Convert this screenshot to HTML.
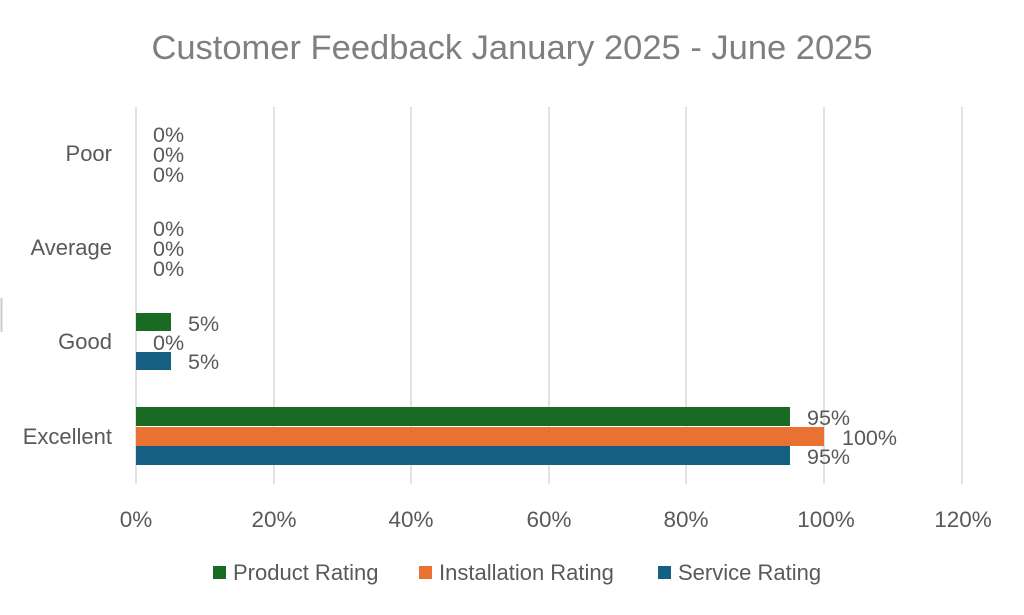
<!DOCTYPE html>
<html><head><meta charset="utf-8"><style>
html,body{margin:0;padding:0;background:#fff;}
svg{display:block;font-family:"Liberation Sans",sans-serif;}
</style></head><body>
<svg width="1024" height="615" viewBox="0 0 1024 615">
<rect width="1024" height="615" fill="#fff"/>
<line x1="1.5" y1="298" x2="1.5" y2="332" stroke="#ccc" stroke-width="2"/>
<text x="512" y="59" text-anchor="middle" font-size="34.5" fill="#7f7f7f">Customer Feedback January 2025 - June 2025</text>
<g stroke="#d9d9d9" stroke-width="1.5">
<line x1="136" y1="107" x2="136" y2="484"/>
<line x1="274" y1="107" x2="274" y2="484"/>
<line x1="411" y1="107" x2="411" y2="484"/>
<line x1="549" y1="107" x2="549" y2="484"/>
<line x1="686" y1="107" x2="686" y2="484"/>
<line x1="824" y1="107" x2="824" y2="484"/>
<line x1="962" y1="107" x2="962" y2="484"/>
</g>
<g font-size="22.5" fill="#595959" text-anchor="middle">
<text x="136" y="527">0%</text><text x="274" y="527">20%</text><text x="411" y="527">40%</text>
<text x="549" y="527">60%</text><text x="686" y="527">80%</text><text x="826" y="527">100%</text><text x="963" y="527">120%</text>
</g>
<g font-size="22" fill="#595959" text-anchor="end">
<text x="112" y="161">Poor</text><text x="112" y="255">Average</text>
<text x="112" y="349">Good</text><text x="112" y="444">Excellent</text>
</g>
<rect x="136" y="313" width="35" height="18" fill="#196b24"/>
<rect x="136" y="352" width="35" height="18" fill="#156082"/>
<rect x="136" y="407" width="654" height="19" fill="#196b24"/>
<rect x="136" y="427" width="688" height="19" fill="#e97132"/>
<rect x="136" y="446" width="654" height="19" fill="#156082"/>
<g font-size="21.5" fill="#595959">
<text x="153" y="142">0%</text><text x="153" y="162">0%</text><text x="153" y="182">0%</text>
<text x="153" y="236">0%</text><text x="153" y="256">0%</text><text x="153" y="276">0%</text>
<text x="188" y="331">5%</text><text x="153" y="350">0%</text><text x="188" y="369">5%</text>
<text x="807" y="425">95%</text><text x="842" y="445">100%</text><text x="807" y="464">95%</text>
</g>
<g font-size="22" fill="#595959">
<rect x="213" y="566" width="13" height="13" fill="#196b24"/><text x="233" y="580">Product Rating</text>
<rect x="419" y="566" width="13" height="13" fill="#e97132"/><text x="439" y="580">Installation Rating</text>
<rect x="658" y="566" width="13" height="13" fill="#156082"/><text x="678" y="580">Service Rating</text>
</g>
</svg>
</body></html>
